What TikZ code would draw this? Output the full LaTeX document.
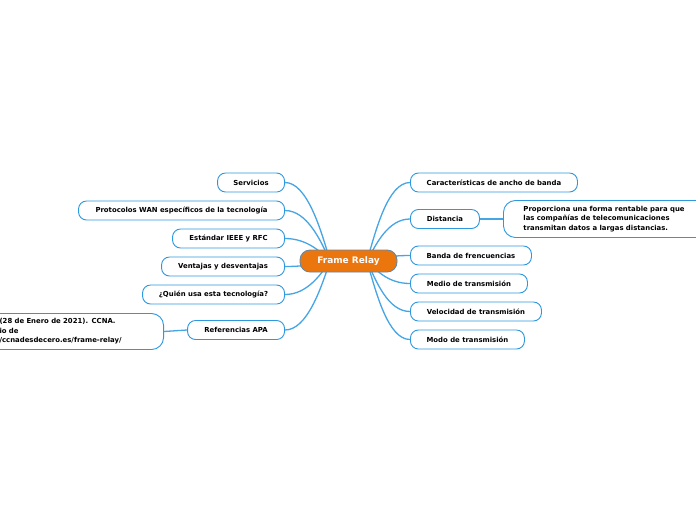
\documentclass[tikz,border=0pt]{standalone}
\usepackage{fontspec}
\setmainfont{DejaVu Sans}
\usetikzlibrary{calc}
\definecolor{nodeblue}{RGB}{46,152,222}
\definecolor{linkblue}{RGB}{70,165,228}
\definecolor{centerfill}{RGB}{236,118,14}
\definecolor{centerdraw}{RGB}{95,135,170}
\begin{document}
\begin{tikzpicture}[x=1pt,y=-1pt,
  topic/.style={draw=nodeblue, line width=0.9pt, fill=white, rounded corners=8pt,
    minimum height=19pt, inner sep=0pt, align=center,
    font=\fontsize{6.9}{9.4}\selectfont\bfseries},
  bigtopic/.style={topic, rounded corners=12pt, align=left, inner ysep=0pt},
  central/.style={draw=centerdraw, line width=0.9pt, fill=centerfill, rounded corners=10pt,
    minimum width=97pt, minimum height=22pt, inner sep=0pt, text=white,
    font=\fontsize{9}{11}\selectfont\bfseries},
  link/.style={draw=linkblue, line width=1.3pt},
]
\useasboundingbox (0,0) rectangle (696,520);
\clip (0,0) rectangle (696,520);
\coordinate (L) at (330,261);
\coordinate (R) at (367,261);
% right nodes
\node[topic, anchor=west, minimum width=167pt] (car) at (410,182.5) {Características de ancho de banda};
\node[topic, anchor=west, minimum width=69pt] (dist) at (410,219) {Distancia};
\node[topic, anchor=west, minimum width=121pt] (banda) at (410,255.5) {Banda de frencuencias};
\node[topic, anchor=west, minimum width=117pt] (medio) at (410,283.5) {Medio de transmisión};
\node[topic, anchor=west, minimum width=131pt] (vel) at (410,311.5) {Velocidad de transmisión};
\node[topic, anchor=west, minimum width=114pt] (modo) at (410,339.5) {Modo de transmisión};
\node[bigtopic, anchor=west, text width=175pt, inner xsep=20pt, minimum height=37pt] (prop) at (503,219)
  {Proporciona una forma rentable para que\\las compañías de telecomunicaciones\\transmitan datos a largas distancias.};
% left nodes
\node[topic, anchor=east, minimum width=67pt] (serv) at (285,182.5) {Servicios};
\node[topic, anchor=east, minimum width=206pt] (prot) at (285,210.5) {Protocolos WAN específicos de la tecnología};
\node[topic, anchor=east, minimum width=112pt] (est) at (285,238.5) {Estándar IEEE y RFC};
\node[topic, anchor=east, minimum width=123pt] (vent) at (285,266.5) {Ventajas y desventajas};
\node[topic, anchor=east, minimum width=142pt] (quien) at (285,294.5) {¿Quién usa esta tecnología?};
\node[topic, anchor=east, minimum width=97pt] (ref) at (285,330) {Referencias APA};
\node[bigtopic, anchor=east, text width=150pt, inner xsep=14pt, minimum height=36pt] (reftext) at (164,331.5)
  {(28 de Enero de 2021). CCNA.\\io de\\/ccnadesdecero.es/frame-relay/};
% connectors
\foreach \n/\y in {serv/182.5, prot/210.5, est/238.5, vent/266.5, quien/294.5, ref/330}
  \draw[link] (\n.east) .. controls +(22,0) and (321,{261+(\y-261)*0.4}) .. (L);
\foreach \n/\y in {car/182.5, dist/219, banda/255.5, medio/283.5, vel/311.5, modo/339.5}
  \draw[link] (\n.west) .. controls +(-22,0) and (376,{261+(\y-261)*0.4}) .. (R);
\draw[link] (dist.east) -- (prop.west);
\draw[link] (ref.west) -- (reftext.east);
\node[central] (fr) at (348.5,261) {Frame Relay};
\end{tikzpicture}
\end{document}
